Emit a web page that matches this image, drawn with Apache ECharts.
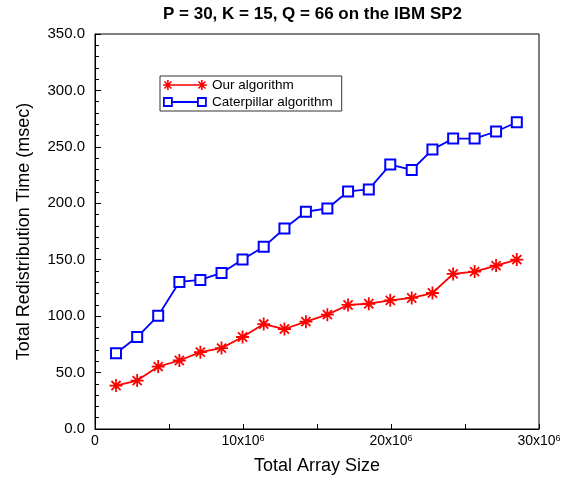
<!DOCTYPE html>
<html>
<head>
<meta charset="utf-8">
<script src="https://cdn.jsdelivr.net/npm/echarts@6/dist/echarts.min.js"></script>
<style>
  html, body { margin: 0; padding: 0; background: #fff; }
  #chart { width: 570px; height: 483px; }
</style>
</head>
<body>
<div id="chart"></div>
<script>
// Total array size (elements) for each measurement
const arraySizes = [1.42e6, 2.85e6, 4.27e6, 5.70e6, 7.12e6, 8.55e6, 9.97e6, 11.4e6, 12.8e6, 14.25e6,
                    15.7e6, 17.1e6, 18.5e6, 19.95e6, 21.4e6, 22.8e6, 24.2e6, 25.65e6, 27.1e6, 28.5e6];
// Redistribution time in msec
const ourTimes = [38.5, 42.9, 55.3, 60.7, 68.1, 71.7, 81.5, 93.0, 88.6, 95.1,
                  101.3, 109.9, 111.0, 114.0, 116.1, 120.5, 137.4, 139.5, 144.8, 150.1];
const caterpillarTimes = [67.2, 81.5, 100.4, 130.3, 132.1, 138.3, 150.1, 161.4, 177.7, 192.5,
                          195.4, 210.5, 212.3, 234.3, 229.5, 247.6, 257.3, 257.3, 263.6, 271.8];
const seriesNames = ['Our algorithm', 'Caterpillar algorithm'];
const xTickLabels = ['0', '10x10{s|6}', '20x10{s|6}', '30x10{s|6}'];

const FONT = '"Liberation Sans", Arial, sans-serif';
const asterisk = 'path://M0,-6L0,6M-6,0L6,0M-4.2,-4.2L4.2,4.2M-4.2,4.2L4.2,-4.2';
const legendAsterisk = 'path://M5,1L5,11M0,6L10,6M1.5,2.5L8.5,9.5M1.5,9.5L8.5,2.5' +
  'M39,1L39,11M34,6L44,6M35.5,2.5L42.5,9.5M35.5,9.5L42.5,2.5M5,6L39,6';
const legendSquare = 'path://M1,2L9,2L9,10L1,10ZM35,2L43,2L43,10L35,10ZM9,6L35,6M0,1M44,11';

const pairs = vals => vals.map((v, i) => [arraySizes[i], v]);

const chart = echarts.init(document.getElementById('chart'), null, { renderer: 'canvas' });
chart.setOption({
  animation: false,
  backgroundColor: '#fff',
  title: {
    text: 'P = 30, K = 15, Q = 66 on the IBM SP2',
    left: 158, top: 1,
    textStyle: { fontFamily: FONT, fontSize: 17, fontWeight: 'bold', color: '#000' }
  },
  legend: {
    orient: 'vertical',
    left: 160, top: 76,
    padding: [2, 9, 2, 2],
    itemGap: 3,
    itemWidth: 44, itemHeight: 10,
    borderColor: '#333', borderWidth: 1,
    textStyle: { fontFamily: FONT, fontSize: 13.5, color: '#000' },
    data: [
      { name: seriesNames[0], icon: legendAsterisk,
        itemStyle: { color: 'rgba(0,0,0,0)', borderColor: '#ff0000', borderWidth: 1.6 } },
      { name: seriesNames[1], icon: legendSquare,
        itemStyle: { color: 'rgba(0,0,0,0)', borderColor: '#0000ff', borderWidth: 1.8 } }
    ]
  },
  grid: {
    left: 95, right: 31, top: 34, bottom: 54,
    show: true, borderColor: '#000', borderWidth: 1, backgroundColor: 'transparent'
  },
  xAxis: {
    type: 'value', min: 0, max: 30e6, interval: 5e6,
    name: 'Total Array Size', nameLocation: 'middle', nameGap: 28,
    nameTextStyle: { fontFamily: FONT, fontSize: 18, color: '#000' },
    axisLine: { lineStyle: { color: '#000', width: 1 } },
    axisTick: { inside: true, length: 5, lineStyle: { color: '#000' } },
    splitLine: { show: false },
    axisLabel: {
      margin: 5, color: '#000', fontFamily: FONT, fontSize: 14,
      formatter: v => (v % 10e6 === 0 ? xTickLabels[v / 10e6] : ''),
      rich: { s: { fontFamily: FONT, fontSize: 9, verticalAlign: 'top', padding: [0, 0, 6, 0] } }
    }
  },
  yAxis: {
    type: 'value', min: 0, max: 350, interval: 50,
    name: 'Total Redistribution Time (msec)', nameLocation: 'middle', nameGap: 62,
    nameTextStyle: { fontFamily: FONT, fontSize: 18, color: '#000' },
    axisLine: { show: true, lineStyle: { color: '#000', width: 1 } },
    axisTick: { show: true, inside: true, length: 6, lineStyle: { color: '#000' } },
    minorTick: { show: true, splitNumber: 5, length: 4, lineStyle: { color: '#000' } },
    splitLine: { show: false },
    axisLabel: {
      margin: 10, color: '#000', fontFamily: FONT, fontSize: 15,
      formatter: v => v.toFixed(1)
    }
  },
  series: [
    {
      name: seriesNames[0], type: 'line', data: pairs(ourTimes),
      symbol: asterisk, symbolSize: 13,
      lineStyle: { color: '#ff0000', width: 1.8 },
      itemStyle: { color: '#ff0000', borderColor: '#ff0000', borderWidth: 1.8 }
    },
    {
      name: seriesNames[1], type: 'line', data: pairs(caterpillarTimes),
      symbol: 'emptyRect', symbolSize: 10,
      lineStyle: { color: '#0000ff', width: 1.8 },
      itemStyle: { color: '#0000ff', borderColor: '#0000ff', borderWidth: 1.8 }
    }
  ]
});
</script>
</body>
</html>
